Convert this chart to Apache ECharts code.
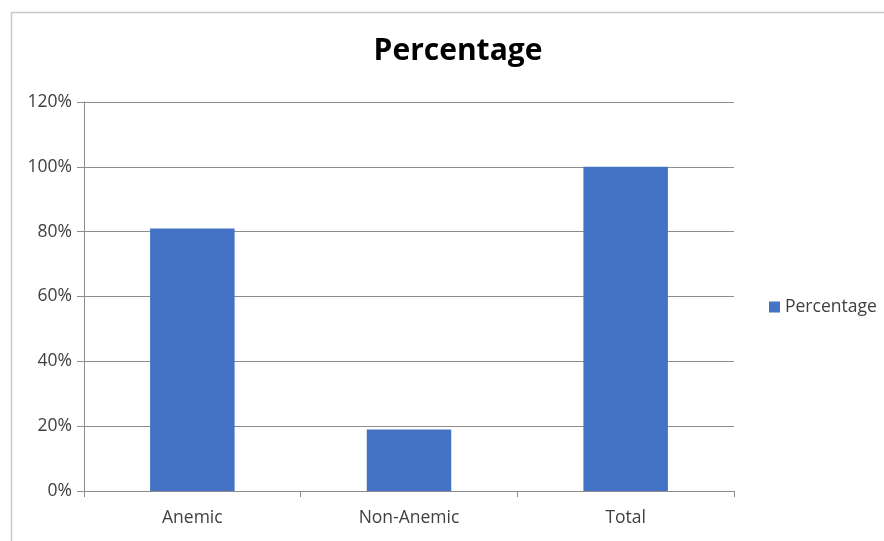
<!DOCTYPE html>
<html>
<head>
<meta charset="utf-8">
<script src="https://cdn.jsdelivr.net/npm/echarts@6/dist/echarts.min.js"></script>
<style>
  html, body { margin: 0; padding: 0; background: #fff; }
  #chart { width: 884px; height: 541px; }
</style>
</head>
<body>
<div id="chart"></div>
<script>
// Share of anemic vs non-anemic cases, with the total
const categories = ['Anemic', 'Non-Anemic', 'Total'];
const percentValues = [81, 19, 100];
const seriesName = 'Percentage';
const titleText = 'Percentage';

const chart = echarts.init(document.getElementById('chart'));
const textColor = '#404040';
const fontFamily = '"Open Sans", "Noto Sans", sans-serif';

chart.setOption({
  backgroundColor: '#ffffff',
  animation: false,
  graphic: [{
    type: 'rect',
    shape: { x: 11.5, y: 12.5, width: 900, height: 600 },
    style: { fill: 'none', stroke: '#c8c8c8', lineWidth: 1.5 },
    silent: true
  }],
  title: {
    text: titleText,
    left: 453,
    top: 31,
    textAlign: 'center',
    textStyle: { fontFamily: fontFamily, fontSize: 30, fontWeight: 'bold', color: '#000' }
  },
  legend: {
    data: [seriesName],
    left: 764,
    top: 293,
    icon: 'rect',
    itemWidth: 11,
    itemHeight: 11,
    itemGap: 6,
    textStyle: { fontFamily: fontFamily, fontSize: 17.5, color: textColor }
  },
  grid: { left: 84, right: 150, top: 102, bottom: 50, containLabel: false },
  xAxis: {
    type: 'category',
    data: categories,
    axisLine: { lineStyle: { color: '#8c8c8c', width: 1 } },
    axisTick: { show: true, length: 6, lineStyle: { color: '#8c8c8c' } },
    axisLabel: { fontFamily: fontFamily, fontSize: 17.5, color: textColor, margin: 18 }
  },
  yAxis: {
    type: 'value',
    min: 0,
    max: 120,
    interval: 20,
    axisLine: { show: true, lineStyle: { color: '#8c8c8c', width: 1 } },
    axisTick: { show: true, length: 7, lineStyle: { color: '#8c8c8c' } },
    axisLabel: { fontFamily: fontFamily, fontSize: 17.5, color: textColor, margin: 12, formatter: '{value}%' },
    splitLine: { lineStyle: { color: '#8c8c8c', width: 1 } }
  },
  series: [{
    name: seriesName,
    type: 'bar',
    data: percentValues,
    barWidth: '39%',
    itemStyle: { color: '#4472c4' }
  }]
});
</script>
</body>
</html>
